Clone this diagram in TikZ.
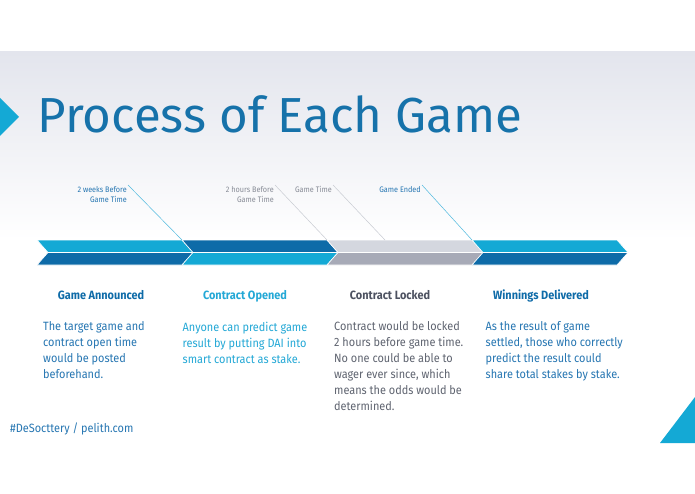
\documentclass[tikz,border=0pt]{standalone}
\usepackage{fontspec}
\setmainfont{Fira Sans}[FakeStretch=0.91]
\newfontfamily\titlefont{Fira Sans}
\usepackage{xcolor}
\usepackage{tikz}
\usetikzlibrary{positioning, calc}
\definecolor{gamecyan}{RGB}{20,169,213}
\definecolor{gameblue}{RGB}{14,107,168}
\definecolor{lockgray}{RGB}{212,215,223}
\definecolor{lockdark}{RGB}{167,170,183}
\definecolor{titleblue}{RGB}{22,114,170}
\definecolor{textblue}{RGB}{38,118,178}
\definecolor{textcyan}{RGB}{35,168,214}
\definecolor{textgray}{RGB}{95,100,112}
\definecolor{headgray}{RGB}{76,81,96}
\definecolor{notegray}{RGB}{135,139,150}
\definecolor{linegray}{RGB}{200,203,210}
\definecolor{slidegray}{RGB}{227,229,237}

\begin{document}
\begin{tikzpicture}[
    x=1pt, y=-1pt,
    heading/.style={font=\fontsize{12}{14}\selectfont\bfseries, anchor=base, inner sep=0pt},
    body/.style={font=\fontsize{12}{16}\selectfont, anchor=north west, align=left, inner sep=0pt},
    note/.style={font=\fontsize{8}{10.5}\selectfont, anchor=north east, align=right, inner sep=1pt},
    callout/.style={line width=0.5pt},
    halfbar/.style={draw=white, line width=0.6pt}
]
\useasboundingbox (0,0) rectangle (695,494);
\fill[white] (0,0) rectangle (695,494);
\shade[top color=slidegray, bottom color=white] (0,52) rectangle (695,240);
\fill[gamecyan] (0,98) -- (19,117) -- (0,136) -- cycle;
\fill[gamecyan] (695,397) -- (695,443) -- (660,443) -- cycle;
\node[anchor=base west, inner sep=0pt, font=\titlefont\fontsize{49.2}{50}\selectfont, text=titleblue] (title) at (37.5,133) {Process of Each Game};
\foreach \i/\up/\down in {0/gamecyan/gameblue, 1/gameblue/gamecyan, 2/lockgray/lockdark, 3/gamecyan/gameblue} {
    \fill[\up, halfbar] ({37+145*\i},240) -- ({182+145*\i},240) -- ({193+145*\i},252.5) -- ({48+145*\i},252.5) -- cycle;
    \fill[\down, halfbar] ({48+145*\i},252.5) -- ({193+145*\i},252.5) -- ({182+145*\i},265) -- ({37+145*\i},265) -- cycle;
    \coordinate (j\i) at ({37+145*\i},240);
}
\coordinate (lockmid) at (385,240);
\node[note, text=textblue] (weeks) at (128,185) {2 weeks Before\\Game Time};
\node[note, text=notegray] (hours) at (275,185) {2 hours Before\\Game Time};
\node[note, text=notegray] (kickoff) at (333,185) {Game Time};
\node[note, text=textblue] (ended) at (422,185) {Game Ended};
\draw[callout, draw=textcyan!80] (weeks.north east) -- (j1);
\draw[callout, draw=linegray] (hours.north east) -- (j2);
\draw[callout, draw=linegray] (kickoff.north east) -- (lockmid);
\draw[callout, draw=textcyan!80] (ended.north east) -- (j3);
\node[heading, text=gameblue] (announced) at (101,299) {Game Announced};
\node[heading, text=textcyan] (opened) at (245,299) {Contract Opened};
\node[heading, text=headgray] (locked) at (390,299) {Contract Locked};
\node[heading, text=gameblue] (delivered) at (541,299) {Winnings Delivered};
\node[body, text=textblue] (announcedtxt) at (43,321.5) {The target game and\\contract open time\\would be posted\\beforehand.};
\node[body, text=textcyan] (openedtxt) at (182.5,321.5) {Anyone can predict game\\result by putting DAI into\\smart contract as stake.};
\node[body, text=textgray] (lockedtxt) at (334,321.5) {Contract would be locked\\2 hours before game time.\\No one could be able to\\wager ever since, which\\means the odds would be\\determined.};
\node[body, text=textblue] (deliveredtxt) at (485.5,321.5) {As the result of game\\settled, those who correctly\\predict the result could\\share total stakes by stake.};
\node[anchor=base west, inner sep=0pt, font=\fontsize{12}{14}\selectfont, text=textblue] (tag) at (10,432) {\#DeSocttery / pelith.com};
\end{tikzpicture}
\end{document}
